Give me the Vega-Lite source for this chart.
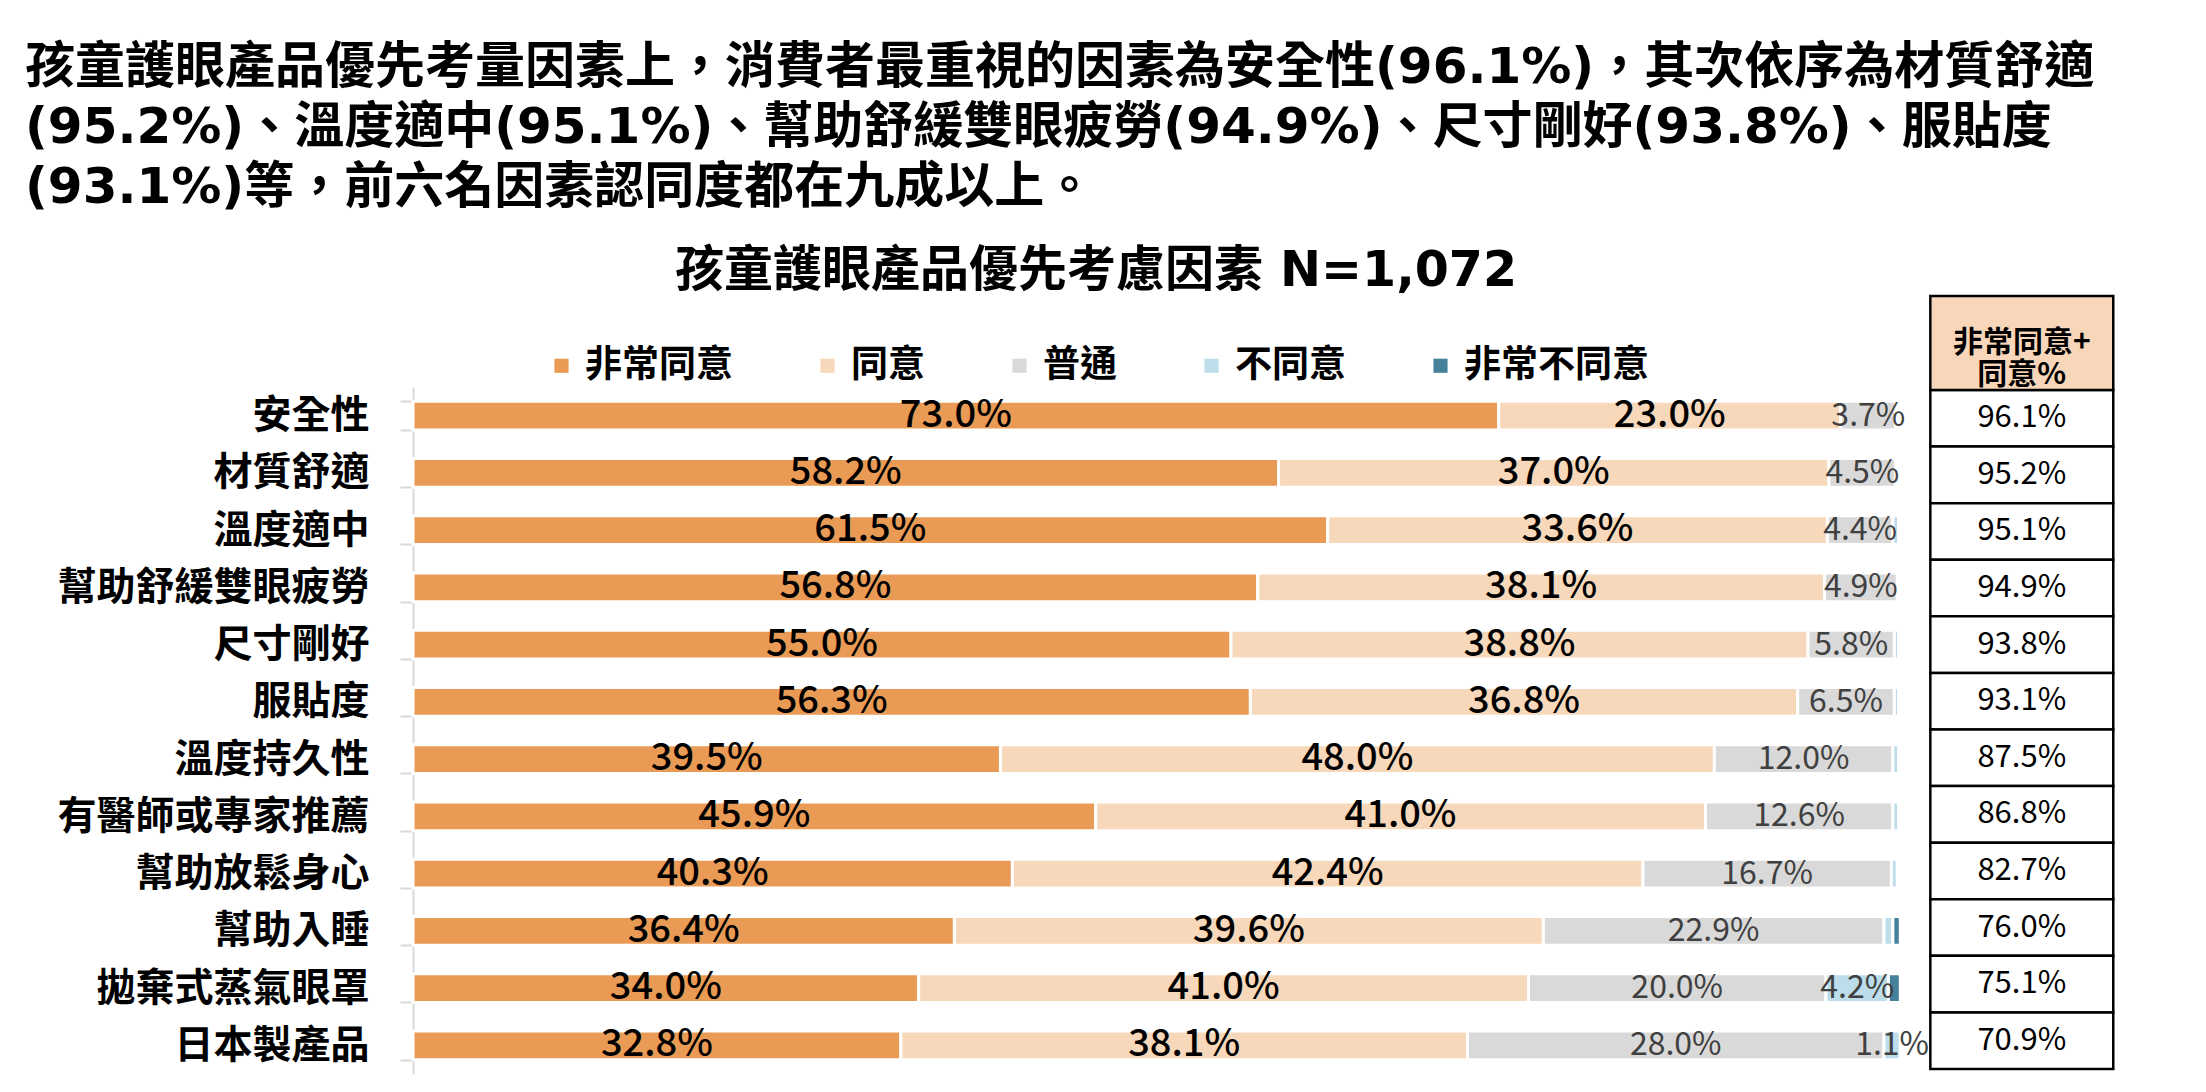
{
  "$schema": "https://vega.github.io/schema/vega-lite/v6.json",
  "width": 1755,
  "height": 778,
  "autosize": {"type": "none"},
  "padding": {"left": 413, "top": 296, "right": 38, "bottom": 18},
  "background": "white",
  "config": {"view": {"stroke": null}, "font": "Noto Sans CJK TC"},
  "title": {
    "text": [
      "孩童護眼產品優先考量因素上，消費者最重視的因素為安全性(96.1%)，其次依序為材質舒適",
      "(95.2%)、溫度適中(95.1%)、幫助舒緩雙眼疲勞(94.9%)、尺寸剛好(93.8%)、服貼度",
      "(93.1%)等，前六名因素認同度都在九成以上。"
    ],
    "anchor": "start",
    "frame": "group",
    "dx": -388,
    "fontSize": 50,
    "fontWeight": "bold",
    "lineHeight": 60,
    "color": "#000000",
    "offset": 34,
    "font": "DejaVu Sans, Noto Sans CJK TC"
  },
  "datasets": {
    "bars": [
      {"f": "安全性", "c": "非常同意", "k": 1, "v": 0.730},
      {"f": "安全性", "c": "同意", "k": 2, "v": 0.230},
      {"f": "安全性", "c": "普通", "k": 3, "v": 0.037},
      {"f": "安全性", "c": "不同意", "k": 4, "v": 0.002},
      {"f": "安全性", "c": "非常不同意", "k": 5, "v": 0.001},
      {"f": "材質舒適", "c": "非常同意", "k": 1, "v": 0.582},
      {"f": "材質舒適", "c": "同意", "k": 2, "v": 0.370},
      {"f": "材質舒適", "c": "普通", "k": 3, "v": 0.045},
      {"f": "材質舒適", "c": "不同意", "k": 4, "v": 0.002},
      {"f": "材質舒適", "c": "非常不同意", "k": 5, "v": 0.001},
      {"f": "溫度適中", "c": "非常同意", "k": 1, "v": 0.615},
      {"f": "溫度適中", "c": "同意", "k": 2, "v": 0.336},
      {"f": "溫度適中", "c": "普通", "k": 3, "v": 0.044},
      {"f": "溫度適中", "c": "不同意", "k": 4, "v": 0.004},
      {"f": "溫度適中", "c": "非常不同意", "k": 5, "v": 0.001},
      {"f": "幫助舒緩雙眼疲勞", "c": "非常同意", "k": 1, "v": 0.568},
      {"f": "幫助舒緩雙眼疲勞", "c": "同意", "k": 2, "v": 0.381},
      {"f": "幫助舒緩雙眼疲勞", "c": "普通", "k": 3, "v": 0.049},
      {"f": "幫助舒緩雙眼疲勞", "c": "不同意", "k": 4, "v": 0.002},
      {"f": "幫助舒緩雙眼疲勞", "c": "非常不同意", "k": 5, "v": 0.000},
      {"f": "尺寸剛好", "c": "非常同意", "k": 1, "v": 0.550},
      {"f": "尺寸剛好", "c": "同意", "k": 2, "v": 0.388},
      {"f": "尺寸剛好", "c": "普通", "k": 3, "v": 0.058},
      {"f": "尺寸剛好", "c": "不同意", "k": 4, "v": 0.003},
      {"f": "尺寸剛好", "c": "非常不同意", "k": 5, "v": 0.001},
      {"f": "服貼度", "c": "非常同意", "k": 1, "v": 0.563},
      {"f": "服貼度", "c": "同意", "k": 2, "v": 0.368},
      {"f": "服貼度", "c": "普通", "k": 3, "v": 0.065},
      {"f": "服貼度", "c": "不同意", "k": 4, "v": 0.003},
      {"f": "服貼度", "c": "非常不同意", "k": 5, "v": 0.001},
      {"f": "溫度持久性", "c": "非常同意", "k": 1, "v": 0.395},
      {"f": "溫度持久性", "c": "同意", "k": 2, "v": 0.480},
      {"f": "溫度持久性", "c": "普通", "k": 3, "v": 0.120},
      {"f": "溫度持久性", "c": "不同意", "k": 4, "v": 0.004},
      {"f": "溫度持久性", "c": "非常不同意", "k": 5, "v": 0.001},
      {"f": "有醫師或專家推薦", "c": "非常同意", "k": 1, "v": 0.459},
      {"f": "有醫師或專家推薦", "c": "同意", "k": 2, "v": 0.410},
      {"f": "有醫師或專家推薦", "c": "普通", "k": 3, "v": 0.126},
      {"f": "有醫師或專家推薦", "c": "不同意", "k": 4, "v": 0.004},
      {"f": "有醫師或專家推薦", "c": "非常不同意", "k": 5, "v": 0.001},
      {"f": "幫助放鬆身心", "c": "非常同意", "k": 1, "v": 0.403},
      {"f": "幫助放鬆身心", "c": "同意", "k": 2, "v": 0.424},
      {"f": "幫助放鬆身心", "c": "普通", "k": 3, "v": 0.167},
      {"f": "幫助放鬆身心", "c": "不同意", "k": 4, "v": 0.004},
      {"f": "幫助放鬆身心", "c": "非常不同意", "k": 5, "v": 0.002},
      {"f": "幫助入睡", "c": "非常同意", "k": 1, "v": 0.364},
      {"f": "幫助入睡", "c": "同意", "k": 2, "v": 0.396},
      {"f": "幫助入睡", "c": "普通", "k": 3, "v": 0.229},
      {"f": "幫助入睡", "c": "不同意", "k": 4, "v": 0.006},
      {"f": "幫助入睡", "c": "非常不同意", "k": 5, "v": 0.005},
      {"f": "拋棄式蒸氣眼罩", "c": "非常同意", "k": 1, "v": 0.340},
      {"f": "拋棄式蒸氣眼罩", "c": "同意", "k": 2, "v": 0.410},
      {"f": "拋棄式蒸氣眼罩", "c": "普通", "k": 3, "v": 0.200},
      {"f": "拋棄式蒸氣眼罩", "c": "不同意", "k": 4, "v": 0.042},
      {"f": "拋棄式蒸氣眼罩", "c": "非常不同意", "k": 5, "v": 0.008},
      {"f": "日本製產品", "c": "非常同意", "k": 1, "v": 0.328},
      {"f": "日本製產品", "c": "同意", "k": 2, "v": 0.381},
      {"f": "日本製產品", "c": "普通", "k": 3, "v": 0.280},
      {"f": "日本製產品", "c": "不同意", "k": 4, "v": 0.011},
      {"f": "日本製產品", "c": "非常不同意", "k": 5, "v": 0.000}
    ],
    "tbl": [
      {"f": "安全性", "t": 0.961},
      {"f": "材質舒適", "t": 0.952},
      {"f": "溫度適中", "t": 0.951},
      {"f": "幫助舒緩雙眼疲勞", "t": 0.949},
      {"f": "尺寸剛好", "t": 0.938},
      {"f": "服貼度", "t": 0.931},
      {"f": "溫度持久性", "t": 0.875},
      {"f": "有醫師或專家推薦", "t": 0.868},
      {"f": "幫助放鬆身心", "t": 0.827},
      {"f": "幫助入睡", "t": 0.760},
      {"f": "拋棄式蒸氣眼罩", "t": 0.751},
      {"f": "日本製產品", "t": 0.709}
    ],
    "hdr": [{"h": "非常同意+\n同意%"}]
  },
  "layer": [
    {
      "data": {"name": "bars"},
      "layer": [
        {
          "mark": {"type": "bar", "stroke": "white", "strokeWidth": 3},
          "encoding": {
            "y": {
              "field": "f", "type": "nominal",
              "scale": {"domain": ["安全性", "材質舒適", "溫度適中", "幫助舒緩雙眼疲勞", "尺寸剛好", "服貼度", "溫度持久性", "有醫師或專家推薦", "幫助放鬆身心", "幫助入睡", "拋棄式蒸氣眼罩", "日本製產品"], "range": [91, 778], "paddingInner": 0.5, "paddingOuter": 0.25},
              "axis": {"title": null, "domain": true, "domainColor": "#D9D9D9", "domainWidth": 2, "ticks": true, "tickColor": "#D9D9D9", "tickWidth": 2, "tickSize": 13, "tickBand": "extent", "labelFontSize": 39, "labelFont": "Noto Sans CJK TC", "labelFontWeight": "bold", "labelColor": "#000000", "labelPadding": 31, "labelLimit": 500, "grid": false}
            },
            "x": {
              "field": "v", "type": "quantitative", "stack": "zero",
              "scale": {"domain": [0, 1.18], "nice": false, "zero": true},
              "axis": {"orient": "top", "title": null, "labels": false, "ticks": false, "domain": false, "grid": false}
            },
            "color": {
              "field": "c", "type": "nominal",
              "scale": {"domain": ["非常同意", "同意", "普通", "不同意", "非常不同意"], "range": ["#E99A54", "#F7D8BA", "#D9D9D9", "#BCDDE9", "#46819C"]},
              "legend": {"orient": "none", "legendX": 130, "legendY": -49, "direction": "horizontal", "title": "孩童護眼產品優先考慮因素 N=1,072", "titleFontSize": 49, "titleFont": "DejaVu Sans, Noto Sans CJK TC", "titleFontWeight": "bold", "titleColor": "#000000", "titleLimit": 2000, "titleAnchor": "middle", "titlePadding": 51, "symbolType": "square", "symbolSize": 200, "symbolStrokeWidth": 0, "labelFontSize": 37, "labelFont": "Noto Sans CJK TC", "labelFontWeight": "bold", "labelColor": "#000000", "columnPadding": 76, "labelOffset": 5, "labelLimit": 400, "padding": 0}
            },
            "order": {"field": "k", "type": "quantitative"}
          }
        },
        {
          "mark": {"type": "text", "fontSize": 38, "fontWeight": 500, "color": "#000000", "baseline": "middle", "align": "center", "font": "Noto Sans CJK TC"},
          "encoding": {
            "y": {"field": "f", "type": "nominal"},
            "x": {"field": "v", "type": "quantitative", "stack": "zero", "bandPosition": 0.5},
            "order": {"field": "k", "type": "quantitative"},
            "text": {"condition": {"test": "datum.k > 2", "value": ""}, "field": "v", "type": "quantitative", "format": ".1%"}
          }
        },
        {
          "mark": {"type": "text", "fontSize": 32, "fontWeight": "normal", "color": "#404040", "baseline": "middle", "align": "center", "font": "Noto Sans CJK TC"},
          "encoding": {
            "y": {"field": "f", "type": "nominal"},
            "x": {"field": "v", "type": "quantitative", "stack": "zero", "bandPosition": 0.5},
            "order": {"field": "k", "type": "quantitative"},
            "text": {"condition": {"test": "datum.k < 3 || datum.k == 5 || (datum.k == 4 && datum.v < 0.01)", "value": ""}, "field": "v", "type": "quantitative", "format": ".1%"}
          }
        }
      ]
    },
    {
      "data": {"name": "tbl"},
      "layer": [
        {
          "mark": {"type": "rect", "fill": "white", "stroke": "#000000", "strokeWidth": 2.5},
          "encoding": {
            "y": {"field": "f", "type": "nominal", "scale": {"domain": ["安全性", "材質舒適", "溫度適中", "幫助舒緩雙眼疲勞", "尺寸剛好", "服貼度", "溫度持久性", "有醫師或專家推薦", "幫助放鬆身心", "幫助入睡", "拋棄式蒸氣眼罩", "日本製產品"], "range": [94, 773], "paddingInner": 0, "paddingOuter": 0}, "axis": null},
            "x": {"datum": 1.0202, "type": "quantitative", "axis": null},
            "x2": {"datum": 1.1432}
          }
        },
        {
          "mark": {"type": "text", "fontSize": 31, "color": "#000000", "baseline": "middle", "align": "center", "font": "Noto Sans CJK TC"},
          "encoding": {
            "y": {"field": "f", "type": "nominal", "axis": null},
            "x": {"datum": 1.0817, "type": "quantitative", "axis": null},
            "text": {"field": "t", "type": "quantitative", "format": ".1%"}
          }
        }
      ]
    },
    {
      "data": {"name": "hdr"},
      "layer": [
        {
          "mark": {"type": "rect", "fill": "#F7D6B9", "stroke": "#000000", "strokeWidth": 2.5},
          "encoding": {
            "y": {"field": "h", "type": "nominal", "scale": {"range": [0, 94], "paddingInner": 0, "paddingOuter": 0}, "axis": null},
            "x": {"datum": 1.0202, "type": "quantitative", "axis": null},
            "x2": {"datum": 1.1432}
          }
        },
        {
          "mark": {"type": "text", "fontSize": 30, "fontWeight": "bold", "color": "#000000", "baseline": "middle", "align": "center", "lineBreak": "\n", "lineHeight": 32, "font": "Noto Sans CJK TC"},
          "encoding": {
            "y": {"field": "h", "type": "nominal", "axis": null},
            "x": {"datum": 1.0817, "type": "quantitative", "axis": null},
            "text": {"field": "h", "type": "nominal"}
          }
        }
      ]
    }
  ],
  "resolve": {"scale": {"y": "independent"}}
}
